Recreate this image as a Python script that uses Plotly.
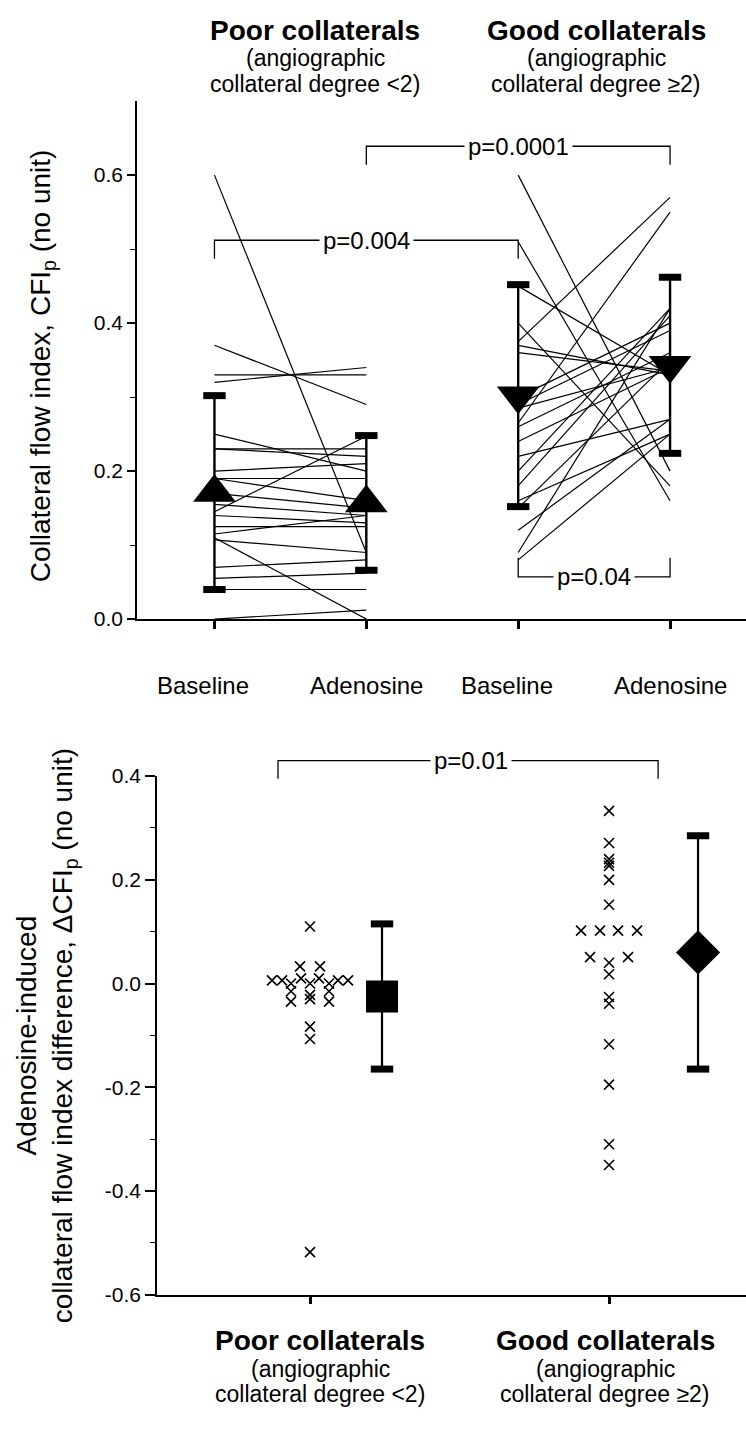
import plotly.graph_objects as go

# ---------------- data ----------------
stage_labels = ["Baseline", "Adenosine", "Baseline", "Adenosine"]
stage_pos = [1, 2, 3, 4]

# individual patients, poor collaterals (baseline -> adenosine)
poor_baseline = [0.60, 0.37, 0.33, 0.32, 0.25, 0.23, 0.23, 0.20, 0.19, 0.19, 0.145,
                 0.17, 0.155, 0.14, 0.125, 0.115, 0.11, 0.107, 0.07, 0.055, 0.04, 0.00]
poor_adenosine = [0.09, 0.29, 0.33, 0.34, 0.20, 0.22, 0.23, 0.21, 0.19, 0.16, 0.247,
                  0.15, 0.14, 0.13, 0.125, 0.14, 0.00, 0.09, 0.08, 0.062, 0.04, 0.012]

# individual patients, good collaterals (baseline -> adenosine)
good_baseline = [0.60, 0.51, 0.45, 0.40, 0.375, 0.37, 0.36, 0.30, 0.29, 0.285, 0.265,
                 0.26, 0.24, 0.22, 0.20, 0.18, 0.16, 0.15, 0.12, 0.09, 0.08]
good_adenosine = [0.20, 0.16, 0.33, 0.18, 0.57, 0.33, 0.335, 0.40, 0.39, 0.34, 0.55,
                  0.36, 0.34, 0.27, 0.42, 0.41, 0.25, 0.35, 0.27, 0.42, 0.25]

stage_mean = [0.171, 0.157, 0.302, 0.343]
stage_sd = [0.131, 0.091, 0.150, 0.119]

top_p_labels = ["p=0.004", "p=0.0001", "p=0.04"]
top_p_from = [1, 2, 3]
top_p_to = [3, 4, 4]
top_p_level = [0.512, 0.639, 0.057]
top_p_tip = [0.487, 0.614, 0.083]
top_p_textx = [2, 3, 3.5]

group_names = ["Poor collaterals", "Good collaterals"]
group_sub1 = ["(angiographic", "(angiographic"]
group_sub2 = ["collateral degree <2)", "collateral degree \u22652)"]
group_pos = [1, 2]

poor_delta = [0.11, 0.033, 0.033, 0.006, 0.006, 0.0, 0.01, 0.0, 0.01, 0.0, 0.006, 0.006,
              -0.015, -0.022, -0.015, -0.035, -0.03, -0.035, -0.083, -0.107, -0.518]
good_delta = [0.333, 0.271, 0.240, 0.233, 0.227, 0.200, 0.152, 0.102, 0.102, 0.102, 0.102,
              0.051, 0.051, 0.040, 0.018, -0.026, -0.039, -0.117, -0.195, -0.31, -0.35]
delta_mean = [-0.025, 0.06]
delta_sd = [0.14, 0.225]

bottom_p_label = "p=0.01"
bottom_p_from = 0.893
bottom_p_to = 2.164
bottom_p_level = 0.43
bottom_p_tip = 0.395
bottom_p_textx = 1.54

# ---------------- layout constants (pixels) ----------------
W, H = 746, 1431
FONT = "Liberation Sans, Arial, Helvetica, sans-serif"

# dot-plot horizontal slots (px) for overlapping crosses
poor_jitter_px = [0, -10, 10, -38, -28, -19, -9, 0, 9, 19, 28, 38,
                  -19, 0, 19, -19, 0, 19, 0, 0, 0]
good_jitter_px = [0, 0, 0, 0, 0, 0, 0, -28, -9, 9, 28, -19, 19, 0, 0, 0, 0, 0, 0, 0, 0]
summary_shift_px = [72, 89]
stage_label_shift_px = [-11, 0, -11, 0]
STAGE_LABEL_Y = 684

TOP_L, TOP_B, TOP_T = 137, 617, 90.6
TOP_XR = [0.49, 4.5]
TOP_YR = [0, 0.7]
BOT_L, BOT_B, BOT_T = 157, 1303.6, 776.6
BOT_XR = [0.4883, 2.458]
BOT_YR = [-0.6, 0.4]
BOT_PX_PER_X = (W - BOT_L) / (BOT_XR[1] - BOT_XR[0])
BOT_PX_PER_Y = (BOT_B - BOT_T) / (BOT_YR[1] - BOT_YR[0])
BRACKET_TOP_PX = 738  # bracket layer reaches a bit above the axis top


def py(p):
    return 1 - p / H


fig = go.Figure()

# ---------------- top panel ----------------
def pair_lines(b, a, x0, x1):
    xs, ys = [], []
    for vb, va in zip(b, a):
        xs += [x0, x1, None]
        ys += [vb, va, None]
    return xs, ys

for b, a, x0, x1 in [(poor_baseline, poor_adenosine, 1, 2), (good_baseline, good_adenosine, 3, 4)]:
    xs, ys = pair_lines(b, a, x0, x1)
    fig.add_trace(go.Scatter(x=xs, y=ys, mode="lines", line=dict(color="black", width=1.2),
                             xaxis="x", yaxis="y", showlegend=False, hoverinfo="skip"))

xs, ys = [], []
for p, m, s in zip(stage_pos, stage_mean, stage_sd):
    xs += [p, p, None]
    ys += [m - s, m + s, None]
fig.add_trace(go.Scatter(x=xs, y=ys, mode="lines", line=dict(color="black", width=2.4),
                         xaxis="x", yaxis="y", showlegend=False, hoverinfo="skip"))
fig.add_trace(go.Scatter(
    x=stage_pos + stage_pos,
    y=[m - s for m, s in zip(stage_mean, stage_sd)] + [m + s for m, s in zip(stage_mean, stage_sd)],
    mode="markers", marker=dict(symbol="line-ew", size=16, line=dict(color="black", width=7)),
    xaxis="x", yaxis="y", showlegend=False, hoverinfo="skip", cliponaxis=False))
fig.add_trace(go.Scatter(x=stage_pos[:2], y=stage_mean[:2], mode="markers",
                         marker=dict(symbol="triangle-up", size=37, color="black"),
                         xaxis="x", yaxis="y", showlegend=False, cliponaxis=False))
fig.add_trace(go.Scatter(x=stage_pos[2:], y=stage_mean[2:], mode="markers",
                         marker=dict(symbol="triangle-down", size=37, color="black"),
                         xaxis="x", yaxis="y", showlegend=False, cliponaxis=False))

annotations = []
for lab, x0, x1, lev, tip, tx in zip(top_p_labels, top_p_from, top_p_to, top_p_level, top_p_tip, top_p_textx):
    fig.add_trace(go.Scatter(x=[x0, x0, x1, x1], y=[tip, lev, lev, tip], mode="lines",
                             line=dict(color="black", width=1.3), xaxis="x", yaxis="y",
                             showlegend=False, hoverinfo="skip"))
    annotations.append(dict(x=tx, y=lev, xref="x", yref="y", text=lab, showarrow=False,
                            xanchor="center", yanchor="middle",
                            bgcolor="white", borderpad=3, font=dict(size=24, family=FONT, color="black")))

# stage labels under the top axis
for lab, p, sh in zip(stage_labels, stage_pos, stage_label_shift_px):
    annotations.append(dict(x=p, y=py(STAGE_LABEL_Y), xref="x", yref="paper", text=lab, showarrow=False,
                            xanchor="center", yanchor="middle", xshift=sh,
                            font=dict(size=24, family=FONT, color="black")))

# ---------------- bottom panel ----------------
for vals, jit, gp in [(poor_delta, poor_jitter_px, group_pos[0]), (good_delta, good_jitter_px, group_pos[1])]:
    fig.add_trace(go.Scatter(x=[gp + j / BOT_PX_PER_X for j in jit], y=vals, mode="markers",
                             marker=dict(symbol="x-thin", size=10, line=dict(color="black", width=1.6)),
                             xaxis="x2", yaxis="y2", showlegend=False, cliponaxis=False))

sum_x = [gp + sh / BOT_PX_PER_X for gp, sh in zip(group_pos, summary_shift_px)]
xs, ys = [], []
for x, m, s in zip(sum_x, delta_mean, delta_sd):
    xs += [x, x, None]
    ys += [m - s, m + s, None]
fig.add_trace(go.Scatter(x=xs, y=ys, mode="lines", line=dict(color="black", width=2.2),
                         xaxis="x2", yaxis="y2", showlegend=False, hoverinfo="skip"))
fig.add_trace(go.Scatter(
    x=sum_x + sum_x,
    y=[m - s for m, s in zip(delta_mean, delta_sd)] + [m + s for m, s in zip(delta_mean, delta_sd)],
    mode="markers", marker=dict(symbol="line-ew", size=16, line=dict(color="black", width=7)),
    xaxis="x2", yaxis="y2", showlegend=False, hoverinfo="skip", cliponaxis=False))
fig.add_trace(go.Scatter(x=[sum_x[0]], y=[delta_mean[0]], mode="markers",
                         marker=dict(symbol="square", size=32, color="black"),
                         xaxis="x2", yaxis="y2", showlegend=False, cliponaxis=False))
fig.add_trace(go.Scatter(x=[sum_x[1]], y=[delta_mean[1]], mode="markers",
                         marker=dict(symbol="diamond", size=34, color="black"),
                         xaxis="x2", yaxis="y2", showlegend=False, cliponaxis=False))

# bracket on an invisible, slightly taller axis with the same scale as y2
fig.add_trace(go.Scatter(x=[bottom_p_from, bottom_p_from, bottom_p_to, bottom_p_to],
                         y=[bottom_p_tip, bottom_p_level, bottom_p_level, bottom_p_tip],
                         mode="lines", line=dict(color="black", width=1.3),
                         xaxis="x2", yaxis="y3", showlegend=False, hoverinfo="skip"))
annotations.append(dict(x=bottom_p_textx, y=bottom_p_level, xref="x2", yref="y3", text=bottom_p_label,
                        showarrow=False, bgcolor="white", borderpad=3, xanchor="center", yanchor="middle",
                        font=dict(size=24, family=FONT, color="black")))

# ---------------- text ----------------
annotations.append(dict(x=42 / W, y=py(360), xref="paper", yref="paper", textangle=-90,
                        xanchor="center", yanchor="middle",
                        text="Collateral flow index, CFI<sub>p</sub> (no unit)", showarrow=False,
                        font=dict(size=28, family=FONT, color="black")))
annotations.append(dict(x=46 / W, y=py(1041), xref="paper", yref="paper", textangle=-90,
                        xanchor="center", yanchor="middle",
                        text="Adenosine-induced<br>collateral flow index difference, \u0394CFI<sub>p</sub> (no unit)",
                        showarrow=False, font=dict(size=28, family=FONT, color="black")))

top_header_x = [315, 596]
bot_header_x = [320, 605]
for i in range(2):
    for xs_, rows in [(top_header_x, [19, 47, 73]), (bot_header_x, [1350, 1379, 1405])]:
        for txt, row, size in [("<b>" + group_names[i] + "</b>", rows[0], 28),
                               (group_sub1[i], rows[1], 23), (group_sub2[i], rows[2], 23)]:
            annotations.append(dict(x=xs_[i] / W, y=py(row), xref="paper", yref="paper",
                                    xanchor="center", yanchor="middle", text=txt, showarrow=False,
                                    font=dict(size=size, family=FONT, color="black")))

axis_common = dict(showline=True, linecolor="black", linewidth=1.6, showgrid=False, zeroline=False,
                   ticks="outside", tickcolor="black", tickfont=dict(size=21, family=FONT, color="black"))

fig.update_layout(
    width=W, height=H, margin=dict(l=0, r=0, t=0, b=0),
    paper_bgcolor="white", plot_bgcolor="rgba(0,0,0,0)",
    font=dict(family=FONT, color="black"),
    annotations=annotations,
    xaxis=dict(**axis_common, domain=[TOP_L / W, 1.0], range=TOP_XR, anchor="y",
               tickvals=stage_pos, showticklabels=False, ticklen=8, tickwidth=3),
    yaxis=dict(**axis_common, domain=[py(TOP_B), py(TOP_T)], range=TOP_YR, anchor="x",
               tickvals=[0, 0.2, 0.4, 0.6], ticktext=["0.0", "0.2", "0.4", "0.6"], ticklen=8, tickwidth=1.6,
               minor=dict(tickvals=[0.1, 0.3, 0.5], ticklen=5, tickwidth=1.4, ticks="outside", tickcolor="black")),
    xaxis2=dict(**axis_common, domain=[BOT_L / W, 1.0], range=BOT_XR, anchor="y2",
                tickvals=group_pos, showticklabels=False, ticklen=8, tickwidth=3),
    yaxis2=dict(**axis_common, domain=[py(BOT_B), py(BOT_T)], range=BOT_YR, anchor="x2",
                tickvals=[-0.6, -0.4, -0.2, 0.0, 0.2, 0.4], ticktext=["-0.6", "-0.4", "-0.2", "0.0", "0.2", "0.4"],
                ticklen=10, tickwidth=1.6,
                minor=dict(tickvals=[-0.5, -0.3, -0.1, 0.1, 0.3], ticklen=5, tickwidth=1.4,
                           ticks="outside", tickcolor="black")),
    yaxis3=dict(domain=[py(BOT_B), py(BRACKET_TOP_PX)],
                range=[BOT_YR[0], BOT_YR[1] + (BOT_T - BRACKET_TOP_PX) / BOT_PX_PER_Y],
                anchor="x2", visible=False, showgrid=False, zeroline=False),
)

fig.write_html("out.html", config={"displayModeBar": False},
               post_script="document.body.style.margin='0px';")
